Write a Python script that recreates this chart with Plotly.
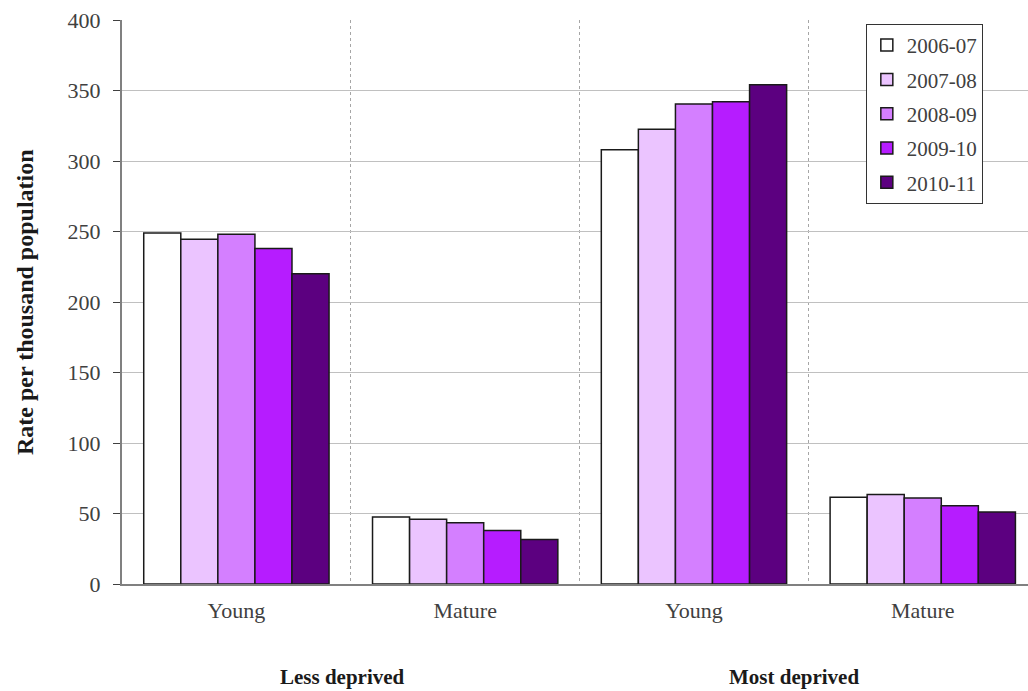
import plotly.graph_objects as go

# Age categories along the x axis, in plotting order
categories = ["Young", "Mature", "Young", "Mature"]
# Deprivation groups, each spanning two categories
groups = ["Less deprived", "Most deprived"]
group_members = [[0, 1], [2, 3]]

years = ["2006-07", "2007-08", "2008-09", "2009-10", "2010-11"]
rate_2006_07 = [249.0, 47.5, 308.0, 61.5]
rate_2007_08 = [244.5, 46.0, 322.5, 63.5]
rate_2008_09 = [248.0, 43.5, 340.5, 61.0]
rate_2009_10 = [238.0, 38.0, 342.0, 55.5]
rate_2010_11 = [220.0, 31.5, 354.0, 51.0]
series = [rate_2006_07, rate_2007_08, rate_2008_09, rate_2009_10, rate_2010_11]

colors = ["#FFFFFF", "#EBC4FF", "#D47FFF", "#B61CFF", "#5C0080"]
serif = "Liberation Serif, Times New Roman, serif"

x_pos = list(range(len(categories)))

fig = go.Figure()
for i, (name, vals) in enumerate(zip(years, series)):
    fig.add_trace(go.Bar(
        x=x_pos,
        y=vals,
        name=name,
        legendgroup=name,
        marker=dict(color=colors[i], line=dict(color="#1a1a1a", width=1.5)),
    ))

fig.update_layout(
    width=1028,
    height=691,
    margin=dict(l=122, r=0, t=20, b=107),
    paper_bgcolor="white",
    plot_bgcolor="white",
    barmode="group",
    bargap=0.19,
    bargroupgap=0,
    font=dict(family=serif, color="#404040"),
    showlegend=True,
    legend=dict(
        x=0.821, y=0.993, xanchor="left", yanchor="top",
        bgcolor="white", bordercolor="#333333", borderwidth=1,
        font=dict(family=serif, size=21, color="#404040"),
        itemwidth=30, tracegroupgap=4,
    ),
)

fig.update_xaxes(
    range=[-0.5, 3.46],
    tickmode="array",
    tickvals=x_pos,
    ticktext=categories,
    ticks="",
    ticklabelstandoff=6,
    tickfont=dict(family=serif, size=22, color="#404040"),
    showgrid=False,
    showline=True,
    linecolor="#808080",
    linewidth=2,
    zeroline=False,
    minor=dict(
        tickmode="array",
        tickvals=[i + 0.5 for i in x_pos[:-1]],
        showgrid=True,
        gridcolor="#A6A6A6",
        griddash="dot",
        gridwidth=1,
        ticks="",
    ),
)

fig.update_yaxes(
    range=[0, 400],
    dtick=50,
    ticks="outside",
    ticklen=7,
    tickcolor="#404040",
    ticklabelstandoff=8,
    tickfont=dict(family=serif, size=22, color="#404040"),
    showgrid=True,
    gridcolor="#C0C0C0",
    gridwidth=1,
    showline=True,
    linecolor="#808080",
    linewidth=2,
    zeroline=False,
)

# Y axis title
fig.add_annotation(
    text="<b>Rate per thousand population</b>",
    xref="paper", yref="paper", x=-0.107, y=0.5,
    xanchor="center", yanchor="middle", textangle=-90, showarrow=False,
    font=dict(family=serif, size=24, color="#1a1a1a"),
)

# Group labels under each pair of categories
for label, members, shift in zip(groups, group_members, [-8, -14]):
    fig.add_annotation(
        text=f"<b>{label}</b>",
        xref="x", yref="paper",
        x=sum(members) / len(members), y=-0.165, xshift=shift,
        xanchor="center", yanchor="middle", showarrow=False,
        font=dict(family=serif, size=21, color="#1a1a1a"),
    )

fig.write_html("out.html")
